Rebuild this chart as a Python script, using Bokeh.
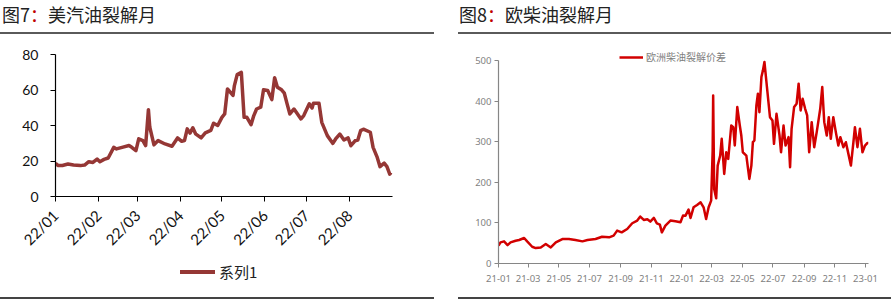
import math
import pandas as pd
from bokeh.plotting import figure
from bokeh.models import Div, FixedTicker, Legend, LegendItem, Range1d, Spacer
from bokeh.layouts import row, column
from bokeh.embed import file_html
from bokeh.resources import INLINE

# ---------------- data: 图7 美汽油裂解月 ----------------
gas_dates = [
    "2022-01-01", "2022-01-03", "2022-01-06", "2022-01-10", "2022-01-14", "2022-01-19",
    "2022-01-22", "2022-01-25", "2022-01-28", "2022-01-31", "2022-02-02", "2022-02-05",
    "2022-02-08", "2022-02-12", "2022-02-14", "2022-02-18", "2022-02-23", "2022-02-25",
    "2022-02-28", "2022-03-02", "2022-03-05", "2022-03-07", "2022-03-09", "2022-03-10",
    "2022-03-13", "2022-03-16", "2022-03-21", "2022-03-26", "2022-03-30", "2022-04-02",
    "2022-04-04", "2022-04-06", "2022-04-08", "2022-04-10", "2022-04-12", "2022-04-16",
    "2022-04-19", "2022-04-23", "2022-04-25", "2022-04-28", "2022-05-01", "2022-05-03",
    "2022-05-05", "2022-05-07", "2022-05-09", "2022-05-10", "2022-05-12", "2022-05-15",
    "2022-05-17", "2022-05-19", "2022-05-22", "2022-05-24", "2022-05-26", "2022-05-29",
    "2022-05-31", "2022-06-03", "2022-06-06", "2022-06-08", "2022-06-10", "2022-06-13",
    "2022-06-15", "2022-06-17", "2022-06-19", "2022-06-22", "2022-06-27", "2022-06-29",
    "2022-07-03", "2022-07-05", "2022-07-06", "2022-07-10", "2022-07-12", "2022-07-16",
    "2022-07-20", "2022-07-22", "2022-07-25", "2022-07-28", "2022-07-31", "2022-08-02",
    "2022-08-05", "2022-08-07", "2022-08-09", "2022-08-11", "2022-08-16", "2022-08-18",
    "2022-08-21", "2022-08-23", "2022-08-26", "2022-08-28", "2022-08-30", "2022-08-31",
]
gas_values = [
    18.7, 17.4, 17.5, 18.3, 17.7, 17.4,
    17.7, 19.6, 19.2, 21.1, 19.6, 20.9,
    21.7, 27.7, 26.8, 27.7, 28.7, 27.7,
    25.8, 32.5, 31.5, 28.7, 48.9, 39.0,
    29.1, 31.5, 29.6, 28.3, 33.0, 31.1,
    31.5, 38.1, 35.7, 38.7, 35.3, 33.0,
    35.8, 37.2, 41.3, 40.0, 44.6, 46.5,
    60.6, 58.8, 56.9, 62.5, 68.7, 69.9,
    44.6, 44.6, 40.5, 45.6, 49.3, 50.3,
    60.1, 59.7, 54.6, 66.9, 61.6, 60.1,
    58.2, 52.2, 46.5, 49.3, 43.7, 45.6,
    52.2, 49.9, 52.5, 52.5, 41.8, 34.3,
    29.9, 32.4, 35.2, 31.8, 33.0, 28.6,
    31.4, 31.8, 37.1, 37.9, 36.2, 27.7,
    22.0, 16.8, 18.8, 16.8, 12.6, 13.6,
]
gas_tick_dates = ["2022-01-01", "2022-02-01", "2022-03-01", "2022-04-01",
                  "2022-05-01", "2022-06-01", "2022-07-01", "2022-08-01"]
gas_tick_labels = ["22/01", "22/02", "22/03", "22/04", "22/05", "22/06", "22/07", "22/08"]
gas_y_ticks = [0, 20, 40, 60, 80]
gas_series_name = "系列1"

# ---------------- data: 图8 欧柴油裂解月 ----------------
diesel_dates = [
    "2021-01-01", "2021-01-05", "2021-01-12", "2021-01-19", "2021-01-25", "2021-02-04",
    "2021-02-11", "2021-02-21", "2021-02-27", "2021-03-09", "2021-03-16", "2021-03-26",
    "2021-04-05", "2021-04-15", "2021-04-25", "2021-05-08", "2021-05-21", "2021-06-03",
    "2021-06-17", "2021-06-27", "2021-07-13", "2021-07-26", "2021-08-09", "2021-08-18",
    "2021-08-25", "2021-09-03", "2021-09-14", "2021-09-24", "2021-10-04", "2021-10-10",
    "2021-10-17", "2021-10-24", "2021-10-30", "2021-11-06", "2021-11-12", "2021-11-18",
    "2021-11-22", "2021-11-29", "2021-12-09", "2021-12-19", "2021-12-29",
    "2022-01-03", "2022-01-08", "2022-01-14", "2022-01-18", "2022-01-24", "2022-01-31",
    "2022-02-07", "2022-02-13", "2022-02-18", "2022-02-23", "2022-02-28", "2022-03-03",
    "2022-03-04", "2022-03-06", "2022-03-10", "2022-03-13", "2022-03-18", "2022-03-21",
    "2022-03-26", "2022-03-30", "2022-04-03", "2022-04-09", "2022-04-13", "2022-04-16",
    "2022-04-21", "2022-04-26", "2022-04-29", "2022-05-02", "2022-05-09", "2022-05-15",
    "2022-05-19", "2022-05-22", "2022-05-25", "2022-05-29", "2022-06-01", "2022-06-04",
    "2022-06-08", "2022-06-11", "2022-06-14", "2022-06-19", "2022-06-25", "2022-06-30",
    "2022-07-03", "2022-07-08", "2022-07-14", "2022-07-17", "2022-07-22", "2022-07-26",
    "2022-08-01", "2022-08-04", "2022-08-07", "2022-08-12", "2022-08-17", "2022-08-21",
    "2022-08-25", "2022-08-29", "2022-09-03", "2022-09-07", "2022-09-11", "2022-09-16",
    "2022-09-21", "2022-09-26", "2022-10-03", "2022-10-07", "2022-10-11", "2022-10-16",
    "2022-10-20", "2022-10-24", "2022-10-29", "2022-11-03", "2022-11-08", "2022-11-12",
    "2022-11-18", "2022-11-23", "2022-11-28", "2022-12-03", "2022-12-08", "2022-12-11",
    "2022-12-16", "2022-12-21", "2022-12-26", "2022-12-31", "2023-01-05", "2023-01-07",
]
diesel_values = [
    43.8, 52.0, 54.5, 45.4, 52.0, 56.0,
    57.8, 62.8, 54.5, 41.3, 38.0, 39.6,
    47.9, 39.6, 52.0, 60.3, 60.3, 57.8,
    54.5, 57.8, 60.3, 66.0, 64.4, 68.6,
    81.0, 76.8, 85.0, 99.1, 105.7, 115.6,
    107.4, 109.0, 103.2, 112.3, 99.0, 95.8,
    76.8, 93.3, 105.7, 104.0, 101.6,
    118.0, 117.8, 132.6, 112.0, 138.4, 144.1,
    150.7, 138.4, 109.5, 138.4, 154.8, 278.0,
    414.0, 183.6, 160.5, 241.2, 265.9, 307.0,
    220.7, 274.0, 257.7, 339.9, 335.8, 290.6,
    385.2, 339.9, 315.2, 274.0, 265.9, 208.3,
    241.2, 298.8, 302.9, 389.4, 418.2, 372.8,
    459.3, 475.7, 496.4, 434.6, 360.5, 352.3,
    294.7, 368.7, 315.2, 274.0, 339.9, 290.6,
    311.2, 237.1, 331.8, 385.2, 393.5, 442.9,
    377.0, 405.8, 381.1, 364.6, 274.0, 348.2,
    286.5, 323.5, 381.1, 434.6, 348.2, 315.2,
    360.5, 307.0, 360.5, 323.5, 290.6, 311.2,
    286.5, 298.8, 270.0, 241.2, 298.8, 335.8,
    286.5, 331.8, 274.0, 290.6, 297.1, 297.0,
]
diesel_tick_dates = ["2021-01-01", "2021-03-01", "2021-05-01", "2021-07-01", "2021-09-01",
                     "2021-11-01", "2022-01-01", "2022-03-01", "2022-05-01", "2022-07-01",
                     "2022-09-01", "2022-11-01", "2023-01-01"]
diesel_tick_labels = ["21-01", "21-03", "21-05", "21-07", "21-09", "21-11", "22-01",
                      "22-03", "22-05", "22-07", "22-09", "22-11", "23-01"]
diesel_y_ticks = [0, 100, 200, 300, 400, 500]
diesel_series_name = "欧洲柴油裂解价差"

GAS_COLOR = "#953735"
DIESEL_COLOR = "#d20000"


def ms(d):
    return float(pd.Timestamp(d).value // 10**6)


def title_div(num, rest, width, left_pad):
    html = (
        f'<div style="width:{width}px;height:34px;position:relative;">'
        f'<div style="position:absolute;left:{left_pad}px;top:1px;line-height:26px;'
        f'font-family:\'Noto Sans CJK SC\';font-size:18px;color:#222;white-space:nowrap;">'
        f'{num}<span style="color:#c00000;">：</span>{rest}</div>'
        f'<div style="position:absolute;left:0;top:32px;width:{width}px;height:2px;background:#5a5a5a;"></div>'
        f'</div>'
    )
    return Div(text=html, width=width, height=34, margin=0)


def rule_div(width):
    return Div(text="", width=width, height=2, margin=0,
               styles={"background-color": "#444444"})


def key_div(label, color, width):
    html = (
        f'<div style="width:{width}px;height:36px;position:relative;">'
        f'<div style="position:absolute;left:180px;top:10px;width:35px;height:4px;background:{color};"></div>'
        f'<div style="position:absolute;left:219px;top:0px;line-height:24px;'
        f'font-family:\'Noto Sans CJK SC\';font-size:15px;color:#222;white-space:nowrap;">{label}</div>'
        f'</div>'
    )
    return Div(text=html, width=width, height=36, margin=0)


# ---------------- left chart ----------------
p1 = figure(width=434, height=226, x_axis_type="datetime", output_backend="svg",
            toolbar_location=None,
            x_range=Range1d(ms("2022-01-01"), ms("2022-09-01")), y_range=Range1d(0, 80),
            min_border_left=55, min_border_right=42, min_border_top=20, min_border_bottom=64)
p1.outline_line_color = None
p1.xgrid.visible = False
p1.ygrid.visible = False
r1 = p1.line(pd.to_datetime(gas_dates), gas_values, line_width=3.5, color=GAS_COLOR,
             line_join="round")

p1.xaxis.ticker = FixedTicker(ticks=[ms(d) for d in gas_tick_dates])
p1.xaxis.major_label_overrides = {ms(d): lab for d, lab in zip(gas_tick_dates, gas_tick_labels)}
p1.xaxis.major_label_orientation = math.pi / 4
p1.yaxis.ticker = FixedTicker(ticks=gas_y_ticks)
for ax in (p1.xaxis[0], p1.yaxis[0]):
    ax.axis_line_color = "#000000"
    ax.axis_line_width = 1.2
    ax.major_tick_line_color = "#000000"
    ax.major_tick_out = 5
    ax.major_tick_in = 0
    ax.minor_tick_out = 0
    ax.minor_tick_in = 0
    ax.major_label_text_font = "Lato"
    ax.major_label_text_font_size = "14px"
    ax.major_label_text_color = "#111111"
p1.xaxis.major_label_text_font_size = "15px"
p1.yaxis.major_label_standoff = 12
p1.xaxis.major_label_standoff = 11

# ---------------- right chart ----------------
p2 = figure(width=433, height=262, x_axis_type="datetime", output_backend="svg",
            toolbar_location=None,
            x_range=Range1d(ms("2021-01-01"), ms("2023-01-07")), y_range=Range1d(0, 534.5),
            min_border_left=40, min_border_right=23, min_border_top=12, min_border_bottom=33)
p2.outline_line_color = None
p2.xgrid.visible = False
p2.ygrid.visible = False
r2 = p2.line(pd.to_datetime(diesel_dates), diesel_values, line_width=2.5, color=DIESEL_COLOR,
             line_join="round")

p2.xaxis.ticker = FixedTicker(ticks=[ms(d) for d in diesel_tick_dates])
p2.xaxis.major_label_overrides = {ms(d): lab for d, lab in zip(diesel_tick_dates, diesel_tick_labels)}
p2.yaxis.ticker = FixedTicker(ticks=diesel_y_ticks)
p2.yaxis.bounds = (0, 500)
for ax in (p2.xaxis[0], p2.yaxis[0]):
    ax.axis_line_color = "#868686"
    ax.axis_line_width = 1.2
    ax.major_tick_line_color = "#868686"
    ax.major_tick_out = 4
    ax.major_tick_in = 0
    ax.minor_tick_out = 0
    ax.minor_tick_in = 0
    ax.major_label_text_font = "Noto Sans"
    ax.major_label_text_font_size = "9.5px"
    ax.major_label_text_color = "#7f7f7f"
p2.yaxis.major_label_standoff = 3
p2.xaxis.major_label_standoff = 7

leg2 = Legend(items=[LegendItem(label=diesel_series_name, renderers=[r2])], location=(121, 199),
              orientation="horizontal", glyph_width=24, glyph_height=12, label_standoff=3,
              padding=0, margin=0, spacing=0, border_line_color=None, background_fill_alpha=0,
              label_text_font="Noto Sans CJK SC", label_text_font_size="10px",
              label_text_color="#7f7f7f")
p2.add_layout(leg2, "center")

left_col = column(title_div("图7", "美汽油裂解月", 434, 2), p1, key_div(gas_series_name, GAS_COLOR, 434),
                  Spacer(width=434, height=1), rule_div(434), spacing=0)
right_col = column(title_div("图8", "欧柴油裂解月", 433, 1), p2, Spacer(width=433, height=1),
                   rule_div(433), spacing=0)
layout = row(left_col, Spacer(width=24, height=300), right_col, spacing=0)

open("out.html", "w").write(file_html(layout, INLINE))
